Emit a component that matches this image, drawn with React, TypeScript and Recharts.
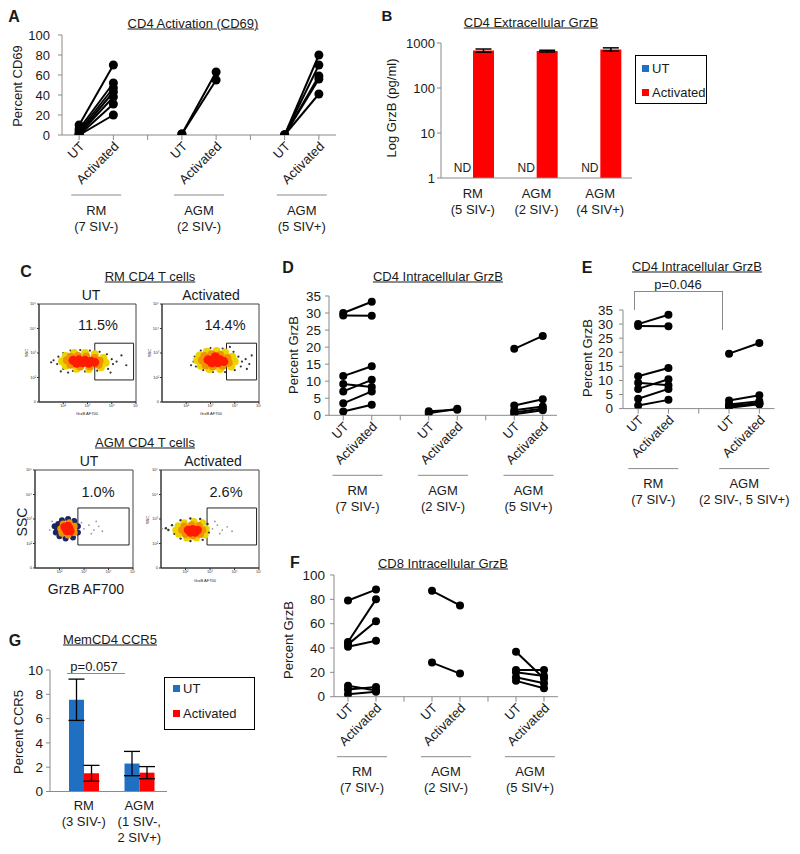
import React from "react";
import {
  LineChart, Line, XAxis, YAxis, BarChart, Bar, ErrorBar, LabelList, Legend,
  ScatterChart, Scatter, ReferenceArea,
} from "recharts";

const FONT = "'Liberation Sans', Arial, Helvetica, sans-serif";
const AXIS = "#8a8a8a";
const INK = "#1a1a1a";
const BLUE = "#1f6fc2";
const RED = "#ff0000";

// ---------- shared category / group labels ----------
const seriesNames = ["UT", "Activated"];
const catsThree = ["UT", "Activated", "", "UT", "Activated", "", "UT", "Activated"];
const catsTwo = ["UT", "Activated", "", "UT", "Activated"];
const lblRm7 = ["RM", "(7 SIV-)"];
const lblAgmNeg2 = ["AGM", "(2 SIV-)"];
const lblAgmPos5 = ["AGM", "(5 SIV+)"];
const lblAgmAll = ["AGM", "(2 SIV-, 5 SIV+)"];

// ---------- Panel A: CD4 Activation (CD69) ----------
const aTicks = [0, 20, 40, 60, 80, 100];
const aRmUT = [10, 6, 4, 2, 1, 0, 0];
const aRmAct = [70, 52, 47, 43, 38, 31, 20];
const aAgmNegUT = [1, 1];
const aAgmNegAct = [63, 55];
const aAgmPosUT = [0, 0, 0, 0, 0];
const aAgmPosAct = [80, 70, 59, 56, 41];

// ---------- Panel B: CD4 Extracellular GrzB ----------
const bCats = ["RM\n(5 SIV-)", "AGM\n(2 SIV-)", "AGM\n(4 SIV+)"];
const bUT = [1, 1, 1]; // not detected
const bUTNote = ["ND", "ND", "ND"];
const bAct = [680, 660, 720];
const bActErr = [55, 30, 60];
const bTicks = [1, 10, 100, 1000];

// ---------- Panel D / E: CD4 Intracellular GrzB ----------
const dTicks = [0, 5, 10, 15, 20, 25, 30, 35];
const dRmUT = [30, 29.3, 11.5, 9.2, 7, 3.5, 1.1];
const dRmAct = [33.3, 29.2, 14.4, 8.3, 10.4, 7, 3.1];
const dAgmNegUT = [0.6, 1.2];
const dAgmNegAct = [1.9, 1.6];
const dAgmPosUT = [19.5, 2.9, 1.5, 0.8, 0.3];
const dAgmPosAct = [23.3, 4.7, 2.6, 2.0, 1.5];

// ---------- Panel F: CD8 Intracellular GrzB ----------
const fTicks = [0, 20, 40, 60, 80, 100];
const fRmUT = [79, 45, 43, 41, 9, 6, 2];
const fRmAct = [88, 80, 62, 46, 5, 8, 4];
const fAgmNegUT = [87, 28];
const fAgmNegAct = [75, 19];
const fAgmPosUT = [37, 22, 20, 16, 13];
const fAgmPosAct = [15, 22, 17, 11, 7];

// ---------- Panel G: MemCD4 CCR5 ----------
const gCats = ["RM\n(3 SIV-)", "AGM\n(1 SIV-,\n2 SIV+)"];
const gUT = [7.55, 2.3];
const gUTErr = [1.7, 1.0];
const gAct = [1.5, 1.55];
const gActErr = [0.65, 0.5];
const gTicks = [0, 2, 4, 6, 8, 10];

// ---------- Panel C: flow cytometry (GrzB AF700 vs SSC, log decades) ----------
const flowXTicks = [1, 2, 3, 4];
const flowXLabels = ["10²", "10³", "10⁴", "10⁵"];
const flowYTicks = [0, 1, 2, 3, 4];
const flowYLabels = ["0", "10²", "10³", "10⁴", "10⁵"];

type P = [number, number];
const rmUtRed: P[] = [[1.4, 1.7], [1.65, 1.72], [1.9, 1.7], [2.15, 1.66], [1.55, 1.58], [1.8, 1.6], [2.05, 1.58], [2.3, 1.62]];
const rmUtOrange: P[] = [[1.15, 1.7], [1.3, 1.85], [1.6, 1.88], [1.95, 1.86], [2.3, 1.8], [2.5, 1.68], [2.45, 1.52], [2.1, 1.45], [1.7, 1.45], [1.3, 1.52]];
const rmUtYellow: P[] = [[0.95, 1.66], [1.1, 1.88], [1.45, 2.0], [1.9, 2.0], [2.3, 1.95], [2.65, 1.8], [2.75, 1.6], [2.55, 1.42], [2.05, 1.35], [1.55, 1.36], [1.1, 1.48]];
const rmUtHalo: P[] = [[0.6, 1.7], [0.75, 1.55], [0.8, 1.85], [1.0, 2.0], [1.3, 2.1], [1.7, 2.12], [2.1, 2.1], [2.5, 2.05], [2.8, 1.95], [3.0, 1.75], [3.05, 1.55], [2.85, 1.35], [2.4, 1.28], [1.9, 1.25], [1.4, 1.27], [1.0, 1.35], [0.5, 1.62], [3.2, 1.65], [2.95, 1.2], [1.2, 1.2], [3.4, 1.9], [3.6, 1.5], [0.9, 1.25]];

const rmActRed: P[] = [[1.9, 1.72], [2.15, 1.75], [2.4, 1.72], [2.05, 1.6], [2.3, 1.6], [2.55, 1.65], [2.2, 1.85]];
const rmActOrange: P[] = [[1.65, 1.7], [1.75, 1.88], [2.05, 1.95], [2.4, 1.92], [2.7, 1.8], [2.75, 1.6], [2.5, 1.48], [2.1, 1.45], [1.8, 1.5]];
const rmActYellow: P[] = [[1.45, 1.7], [1.55, 1.9], [1.85, 2.05], [2.25, 2.08], [2.6, 2.02], [2.9, 1.85], [3.0, 1.65], [2.85, 1.45], [2.4, 1.35], [1.95, 1.35], [1.6, 1.48]];
const rmActHalo: P[] = [[1.3, 1.65], [1.35, 1.85], [1.6, 2.1], [2.0, 2.2], [2.5, 2.18], [2.95, 2.05], [3.15, 1.85], [3.3, 1.65], [3.25, 1.45], [3.0, 1.3], [2.6, 1.22], [2.1, 1.22], [1.7, 1.3], [1.4, 1.45], [3.45, 1.75], [3.6, 1.55], [3.7, 1.9], [1.2, 1.5], [3.5, 1.35], [2.8, 2.25]];

const agmUtRed: P[] = [[1.25, 1.6], [1.4, 1.62], [1.3, 1.5], [1.35, 1.72], [1.2, 1.68], [1.45, 1.5]];
const agmUtOrange: P[] = [[1.05, 1.6], [1.15, 1.8], [1.4, 1.85], [1.6, 1.7], [1.6, 1.45], [1.35, 1.35], [1.1, 1.42]];
const agmUtRing: P[] = [[0.9, 1.6], [0.95, 1.8], [1.1, 1.95], [1.35, 2.0], [1.6, 1.92], [1.75, 1.7], [1.75, 1.45], [1.55, 1.25], [1.25, 1.2], [1.0, 1.3], [0.85, 1.45], [0.8, 1.7]];
const agmUtGrey: P[] = [[2.0, 1.6], [2.2, 1.75], [2.4, 1.55], [2.6, 1.7], [2.75, 1.5], [2.3, 1.4], [1.9, 1.85], [2.5, 1.9], [0.6, 1.55], [0.7, 1.9]];

const agmActRed: P[] = [[1.1, 1.55], [1.3, 1.58], [1.5, 1.55], [1.2, 1.45], [1.4, 1.45]];
const agmActOrange: P[] = [[0.85, 1.55], [0.95, 1.7], [1.25, 1.75], [1.55, 1.72], [1.7, 1.55], [1.6, 1.38], [1.3, 1.32], [1.0, 1.38]];
const agmActYellow: P[] = [[0.6, 1.55], [0.7, 1.72], [0.95, 1.85], [1.35, 1.9], [1.7, 1.85], [1.85, 1.6], [1.8, 1.35], [1.45, 1.22], [1.05, 1.22], [0.72, 1.38]];
const agmActHalo: P[] = [[0.3, 1.55], [0.45, 1.75], [0.55, 1.4], [0.8, 1.95], [1.2, 2.02], [1.6, 2.0], [1.9, 1.8], [1.95, 1.45], [1.7, 1.15], [1.2, 1.1], [0.8, 1.2], [0.2, 1.62]];
const agmActGrey: P[] = [[2.1, 1.6], [2.3, 1.75], [2.5, 1.55], [2.7, 1.68], [2.9, 1.5], [2.4, 1.4], [2.2, 1.9], [0.05, 1.6]];

// ---------- helpers ----------
function Txt(props: { x: number; y: number; size?: number; bold?: boolean; underline?: boolean; rotate?: number; children: React.ReactNode }) {
  const { x, y, size = 13, bold, underline, rotate, children } = props;
  return (
    <div
      style={{
        position: "absolute", left: x, top: y,
        transform: `translate(-50%, -50%)${rotate ? ` rotate(${rotate}deg)` : ""}`,
        fontSize: size, fontWeight: bold ? 700 : 400, textDecoration: underline ? "underline" : "none",
        whiteSpace: "nowrap", lineHeight: 1, color: INK, fontFamily: FONT,
      }}
    >
      {children}
    </div>
  );
}

function makePairTick(cats: string[], groupLabels: Map<number, string[]>, fontSize: number) {
  return function PairTick(props: any) {
    const { x, y, payload } = props;
    const v = payload.value as number;
    const gl = groupLabels.get(v);
    if (gl) {
      return (
        <g>
          <line x1={x - 25} x2={x + 25} y1={y + 60} y2={y + 60} stroke={AXIS} strokeWidth={1} />
          {gl.map((t, i) => (
            <text key={i} x={x} y={y + 75 + 16 * i} textAnchor="middle" dominantBaseline="central" fontSize={fontSize} fill={INK}>{t}</text>
          ))}
        </g>
      );
    }
    const name = cats[Math.round(v - 0.5)];
    const ax = x + 3;
    const ay = y + 9;
    return (
      <g>
        <line x1={x} x2={x} y1={y} y2={y + 5} stroke={AXIS} strokeWidth={1} />
        {name ? (
          <text x={ax} y={ay} transform={`rotate(-45 ${ax} ${ay})`} textAnchor="end" dominantBaseline="central" fontSize={fontSize} fill={INK}>{name}</text>
        ) : null}
      </g>
    );
  };
}

type PairGroup = { at: number; ut: number[]; act: number[]; label: string[] };

function PairedPanel(props: {
  plot: [number, number, number, number];
  padL: number; padR?: number; yDomain: [number, number]; yTicks: number[]; cats: string[]; groups: PairGroup[];
  tickFont: number; dotR: number; tickGap: number;
}) {
  const { plot, padL, padR = 12, yDomain, yTicks, cats, groups, tickFont, dotR, tickGap } = props;
  const [x0, x1, yT, yB] = plot;
  const padT = 12, padB = 110;
  const width = x1 - x0 + padL + padR;
  const height = yB - yT + padT + padB;
  const labelMap = new Map<number, string[]>(groups.map((g) => [g.at + 1, g.label] as [number, string[]]));
  const ticks = [...cats.map((_, i) => i + 0.5), ...groups.map((g) => g.at + 1)].sort((a, b) => a - b);
  const Tick = makePairTick(cats, labelMap, 13);
  return (
    <div style={{ position: "absolute", left: x0 - padL, top: yT - padT }}>
      <LineChart width={width} height={height} margin={{ top: padT, right: padR, bottom: 0, left: 0 }}>
        <XAxis type="number" dataKey="x" domain={[0, cats.length]} ticks={ticks} interval={0} tick={Tick}
          tickLine={false} tickSize={0} tickMargin={0} height={padB} axisLine={{ stroke: AXIS }} allowDataOverflow />
        <YAxis type="number" domain={yDomain} ticks={yTicks} interval={0} width={padL}
          tick={{ fontSize: tickFont, fill: INK }} tickSize={4} tickMargin={tickGap}
          axisLine={{ stroke: AXIS }} tickLine={{ stroke: AXIS }} allowDataOverflow />
        {groups.flatMap((g, gi) =>
          g.ut.map((u, i) => (
            <Line key={`${gi}-${i}`} type="linear"
              data={[{ x: g.at + 0.5, y: u }, { x: g.at + 1.5, y: g.act[i] }]}
              dataKey="y" stroke="#000" strokeWidth={2}
              dot={{ r: dotR, fill: "#000", stroke: "#000", strokeWidth: 0 }}
              activeDot={false} isAnimationActive={false} />
          ))
        )}
      </LineChart>
    </div>
  );
}

function StackTick(offset: number) {
  return function T(props: any) {
    const { x, y, payload } = props;
    const lines = String(payload.value).split("\n");
    return (
      <g>
        {lines.map((t, i) => (
          <text key={i} x={x} y={y + offset + 16 * i} textAnchor="middle" dominantBaseline="central" fontSize={13} fill={INK}>{t}</text>
        ))}
      </g>
    );
  };
}

function LegendBox(props: { payload?: any[]; w: number; h: number; padTop: number; gap: number; padLeft: number }) {
  const { payload = [], w, h, padTop, gap, padLeft } = props;
  const items = [...payload].sort((a: any, b: any) => seriesNames.indexOf(a.value) - seriesNames.indexOf(b.value));
  return (
    <div style={{ width: w, height: h, border: "1.3px solid #000", boxSizing: "border-box", background: "#fff", paddingTop: padTop, paddingLeft: padLeft, display: "flex", flexDirection: "column", gap }}>
      {items.map((e: any, i: number) => (
        <div key={i} style={{ display: "flex", alignItems: "center", height: 13, fontSize: 13, lineHeight: 1, color: INK, fontFamily: FONT }}>
          <span style={{ width: 7, height: 7, background: e.color, marginRight: 3, display: "inline-block" }} />
          {e.value}
        </div>
      ))}
    </div>
  );
}

// "ND" note drawn over the (empty) UT slot, left of each Activated bar
function NdLabel(props: any) {
  const { x, y, width, height, index } = props;
  const cx = x - width / 2;
  const base = y + height;
  return (
    <text x={cx} y={base - 10} textAnchor="middle" dominantBaseline="central" fontSize={12} fill={INK}>
      {bUTNote[index]}
    </text>
  );
}

type Layer = { pts: P[]; color: string; r: number };

function FlowPlot(props: { plot: [number, number, number, number]; gate: [number, number, number, number]; layers: Layer[] }) {
  const { plot, gate, layers } = props;
  const [x0, x1, yT, yB] = plot;
  const padL = 12, padT = 2, padR = 2, padB = 8;
  return (
    <div style={{ position: "absolute", left: x0 - padL, top: yT - padT }}>
      <ScatterChart width={x1 - x0 + padL + padR} height={yB - yT + padT + padB} margin={{ top: padT, right: padR, bottom: 0, left: 0 }}>
        <XAxis type="number" dataKey="x" domain={[0, 4]} ticks={flowXTicks} interval={0}
          tickFormatter={(v: number) => flowXLabels[v - 1]} tick={{ fontSize: 4, fill: "#333" }}
          tickSize={2} tickMargin={0} height={padB} axisLine={{ stroke: "#333" }} tickLine={{ stroke: "#333" }} allowDataOverflow />
        <YAxis type="number" dataKey="y" domain={[0, 4]} ticks={flowYTicks} interval={0}
          tickFormatter={(v: number) => flowYLabels[v]} tick={{ fontSize: 4, fill: "#333" }}
          tickSize={2} tickMargin={1} width={padL} axisLine={{ stroke: "#333" }} tickLine={{ stroke: "#333" }} allowDataOverflow />
        <ReferenceArea x1={0} x2={4} y1={0} y2={4} fill="#fff" fillOpacity={0} stroke="#444" strokeWidth={1} ifOverflow="visible" />
        {layers.map((l, i) => (
          <Scatter key={i} data={l.pts.map(([x, y]) => ({ x, y }))} isAnimationActive={false}
            shape={(p: any) => <circle cx={p.cx} cy={p.cy} r={l.r} fill={l.color} />} />
        ))}
        <ReferenceArea x1={gate[0]} x2={gate[1]} y1={gate[2]} y2={gate[3]} fill="#fff" fillOpacity={0} stroke="#222" strokeWidth={1} ifOverflow="visible" />
      </ScatterChart>
    </div>
  );
}

const HALO = "#333";
const YEL = "#ecd400";
const ORG = "#f39000";
const RD = "#ff1a00";

export default function App() {
  const bData = bCats.map((name, i) => ({ name, ut: bUT[i], act: bAct[i], err: bActErr[i] }));
  const gData = gCats.map((name, i) => ({ name, ut: gUT[i], utErr: gUTErr[i], act: gAct[i], actErr: gActErr[i] }));

  const bLeft = 380;
  const gTop = 620;

  return (
    <div style={{ position: "absolute", left: 0, top: 0, width: 800, height: 854, background: "#fff", overflow: "hidden", fontFamily: FONT }}>
      {/* Panel A */}
      <PairedPanel plot={[62, 336, 35, 135]} padL={62} yDomain={[0, 100]} yTicks={aTicks} cats={catsThree}
        tickFont={13} dotR={4.5} tickGap={8}
        groups={[
          { at: 0, ut: aRmUT, act: aRmAct, label: lblRm7 },
          { at: 3, ut: aAgmNegUT, act: aAgmNegAct, label: lblAgmNeg2 },
          { at: 6, ut: aAgmPosUT, act: aAgmPosAct, label: lblAgmPos5 },
        ]} />

      {/* Panel B */}
      <div style={{ position: "absolute", left: bLeft, top: 0 }}>
        <BarChart width={334} height={223} data={bData} margin={{ top: 43, right: 82, bottom: 0, left: 0 }} barGap={0}>
          <XAxis dataKey="name" tick={StackTick(15)} tickLine={false} tickSize={0} tickMargin={0} height={45} interval={0} axisLine={{ stroke: AXIS }} />
          <YAxis type="number" scale="log" domain={[1, 1000]} ticks={bTicks} interval={0} allowDataOverflow width={61}
            tick={{ fontSize: 13, fill: INK }} tickSize={4} tickMargin={2} axisLine={{ stroke: AXIS }} tickLine={{ stroke: AXIS }} />
          <Legend layout="vertical" align="center" verticalAlign="middle"
            wrapperStyle={{ left: 635 - bLeft, top: 55, width: 72, height: 49 }}
            content={(p: any) => <LegendBox payload={p.payload} w={72} h={49} padTop={5.5} gap={11} padLeft={6} />} />
          <Bar dataKey="ut" name="UT" fill={BLUE} barSize={21} isAnimationActive={false} />
          <Bar dataKey="act" name="Activated" fill={RED} barSize={21} isAnimationActive={false}>
            <ErrorBar dataKey="err" width={8} stroke="#000" strokeWidth={1.5} direction="y" />
            <LabelList dataKey="act" content={NdLabel} />
          </Bar>
        </BarChart>
      </div>

      {/* Panel C */}
      <FlowPlot plot={[39, 136, 304, 402]} gate={[2.3, 3.9, 0.9, 2.4]}
        layers={[{ pts: rmUtHalo, color: HALO, r: 1.1 }, { pts: rmUtYellow, color: YEL, r: 4 }, { pts: rmUtOrange, color: ORG, r: 4 }, { pts: rmUtRed, color: RD, r: 4.5 }]} />
      <FlowPlot plot={[162, 259, 304, 402]} gate={[2.66, 3.9, 0.9, 2.4]}
        layers={[{ pts: rmActHalo, color: HALO, r: 1.1 }, { pts: rmActYellow, color: YEL, r: 4 }, { pts: rmActOrange, color: ORG, r: 4 }, { pts: rmActRed, color: RD, r: 4.5 }]} />
      <FlowPlot plot={[35, 133, 470, 568]} gate={[1.75, 3.84, 0.94, 2.45]}
        layers={[{ pts: agmUtGrey, color: "#9a9a9a", r: 0.9 }, { pts: agmUtRing, color: "#1b2560", r: 3 }, { pts: agmUtOrange, color: ORG, r: 3.5 }, { pts: agmUtRed, color: RD, r: 4 }]} />
      <FlowPlot plot={[161, 259, 470, 568]} gate={[1.88, 3.9, 0.94, 2.45]}
        layers={[{ pts: agmActGrey, color: "#9a9a9a", r: 0.9 }, { pts: agmActHalo, color: HALO, r: 1.2 }, { pts: agmActYellow, color: YEL, r: 3.5 }, { pts: agmActOrange, color: ORG, r: 3.8 }, { pts: agmActRed, color: RD, r: 4.2 }]} />

      {/* Panel D */}
      <PairedPanel plot={[329, 557, 295.7, 415]} padL={59} yDomain={[0, 35]} yTicks={dTicks} cats={catsThree}
        tickFont={13.5} dotR={4} tickGap={4}
        groups={[
          { at: 0, ut: dRmUT, act: dRmAct, label: lblRm7 },
          { at: 3, ut: dAgmNegUT, act: dAgmNegAct, label: lblAgmNeg2 },
          { at: 6, ut: dAgmPosUT, act: dAgmPosAct, label: lblAgmPos5 },
        ]} />

      {/* Panel E */}
      <PairedPanel plot={[623, 774.5, 310, 408.6]} padL={63} padR={25} yDomain={[0, 35]} yTicks={dTicks} cats={catsTwo}
        tickFont={13.5} dotR={4} tickGap={6}
        groups={[
          { at: 0, ut: dRmUT, act: dRmAct, label: lblRm7 },
          { at: 3, ut: [...dAgmNegUT, ...dAgmPosUT], act: [...dAgmNegAct, ...dAgmPosAct], label: lblAgmAll },
        ]} />

      {/* Panel F */}
      <PairedPanel plot={[334, 558, 575, 696.7]} padL={64} yDomain={[0, 100]} yTicks={fTicks} cats={catsThree}
        tickFont={13.5} dotR={4} tickGap={5}
        groups={[
          { at: 0, ut: fRmUT, act: fRmAct, label: lblRm7 },
          { at: 3, ut: fAgmNegUT, act: fAgmNegAct, label: lblAgmNeg2 },
          { at: 6, ut: fAgmPosUT, act: fAgmPosAct, label: lblAgmPos5 },
        ]} />

      {/* Panel G */}
      <div style={{ position: "absolute", left: 0, top: gTop }}>
        <BarChart width={262} height={227} data={gData} margin={{ top: 50, right: 95, bottom: 0, left: 0 }} barGap={0}>
          <XAxis dataKey="name" tick={StackTick(13.5)} tickLine={false} tickSize={0} tickMargin={0} height={55.5} interval={0}
            axisLine={{ stroke: AXIS }} padding={{ left: 6, right: 0 }} />
          <YAxis type="number" domain={[0, 10]} ticks={gTicks} interval={0} width={50}
            tick={{ fontSize: 13.5, fill: INK }} tickSize={4} tickMargin={3} axisLine={{ stroke: AXIS }} tickLine={{ stroke: AXIS }} />
          <Legend layout="vertical" align="center" verticalAlign="middle"
            wrapperStyle={{ left: 164, top: 677 - gTop, width: 91, height: 53 }}
            content={(p: any) => <LegendBox payload={p.payload} w={91} h={53} padTop={3.5} gap={12} padLeft={8} />} />
          <Bar dataKey="ut" name="UT" fill={BLUE} barSize={15} isAnimationActive={false}>
            <ErrorBar dataKey="utErr" width={8} stroke="#000" strokeWidth={1.3} direction="y" />
          </Bar>
          <Bar dataKey="act" name="Activated" fill={RED} barSize={15} isAnimationActive={false}>
            <ErrorBar dataKey="actErr" width={8} stroke="#000" strokeWidth={1.3} direction="y" />
          </Bar>
        </BarChart>
      </div>

      {/* ---- annotations & titles ---- */}
      <Txt x={14} y={17} size={16} bold>A</Txt>
      <Txt x={193} y={23} underline>CD4 Activation (CD69)</Txt>
      <Txt x={17} y={86} rotate={-90}>Percent CD69</Txt>

      <Txt x={387} y={15} size={15} bold>B</Txt>
      <Txt x={531} y={22} underline>CD4 Extracellular GrzB</Txt>
      <Txt x={391} y={108} rotate={-90}>Log GrzB (pg/ml)</Txt>

      <Txt x={26} y={272} size={16} bold>C</Txt>
      <Txt x={150} y={276} underline>RM CD4 T cells</Txt>
      <Txt x={91} y={295} size={14}>UT</Txt>
      <Txt x={211} y={295} size={14}>Activated</Txt>
      <Txt x={98} y={325} size={14.5}>11.5%</Txt>
      <Txt x={225} y={325} size={14.5}>14.4%</Txt>
      <Txt x={27} y={353} size={4} rotate={-90}>SSC</Txt>
      <Txt x={150} y={353} size={4} rotate={-90}>SSC</Txt>
      <Txt x={87} y={414} size={4}>GrzB AF700</Txt>
      <Txt x={211} y={414} size={4}>GrzB AF700</Txt>
      <Txt x={145} y={442} underline>AGM CD4 T cells</Txt>
      <Txt x={89} y={461} size={14}>UT</Txt>
      <Txt x={213} y={461} size={14}>Activated</Txt>
      <Txt x={98} y={492} size={14.5}>1.0%</Txt>
      <Txt x={226} y={492} size={14.5}>2.6%</Txt>
      <Txt x={22} y={522} size={14} rotate={-90}>SSC</Txt>
      <Txt x={148} y={520} size={4} rotate={-90}>SSC</Txt>
      <Txt x={86} y={589} size={14}>GrzB AF700</Txt>
      <Txt x={205} y={581} size={4}>GrzB AF700</Txt>

      <Txt x={288} y={268} size={16} bold>D</Txt>
      <Txt x={438} y={276} underline>CD4 Intracellular GrzB</Txt>
      <Txt x={293} y={355} rotate={-90}>Percent GrzB</Txt>

      <Txt x={587} y={268} size={16} bold>E</Txt>
      <Txt x={697} y={266} underline>CD4 Intracellular GrzB</Txt>
      <Txt x={587} y={358} rotate={-90}>Percent GrzB</Txt>
      <Txt x={678} y={284}>p=0.046</Txt>
      <div style={{ position: "absolute", left: 634, top: 291, width: 88, height: 0, borderTop: `1px solid ${AXIS}` }} />
      <div style={{ position: "absolute", left: 634, top: 291, width: 0, height: 19, borderLeft: `1px solid ${AXIS}` }} />
      <div style={{ position: "absolute", left: 722, top: 291, width: 0, height: 39, borderLeft: `1px solid ${AXIS}` }} />

      <Txt x={295} y={563} size={16} bold>F</Txt>
      <Txt x={443} y={563} underline>CD8 Intracellular GrzB</Txt>
      <Txt x={288} y={640} rotate={-90}>Percent GrzB</Txt>

      <Txt x={15} y={641} size={16} bold>G</Txt>
      <Txt x={110} y={639} underline>MemCD4 CCR5</Txt>
      <Txt x={18} y={732} rotate={-90}>Percent CCR5</Txt>
      <Txt x={94} y={666}>p=0.057</Txt>
      <div style={{ position: "absolute", left: 67, top: 673, width: 58, height: 0, borderTop: `1px solid ${AXIS}` }} />
    </div>
  );
}
